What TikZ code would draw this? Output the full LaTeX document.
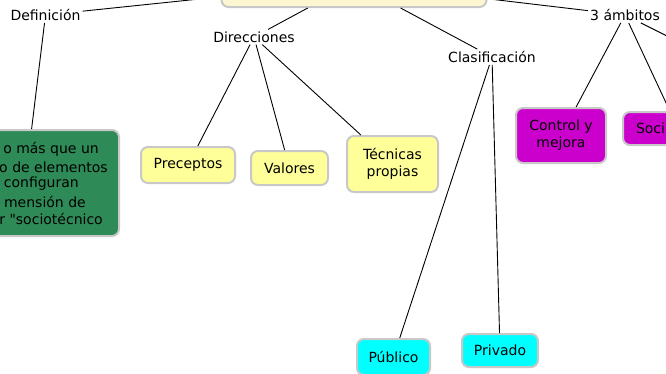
\documentclass[tikz,border=0pt]{standalone}
\usepackage{fontspec}
\setmainfont{DejaVu Sans}[Ligatures=TeXOff]
\usetikzlibrary{positioning}
\definecolor{rootfill}{RGB}{252,247,208}
\definecolor{dirfill}{RGB}{255,255,153}
\definecolor{deffill}{RGB}{46,139,87}
\definecolor{clasfill}{RGB}{0,255,255}
\definecolor{ambfill}{RGB}{204,0,204}
\definecolor{boxline}{RGB}{200,200,200}
\tikzset{
    concept/.style={
        draw=boxline,
        line width=2pt,
        rounded corners=7pt,
        align=center,
        inner sep=2pt,
        font=\fontsize{14}{17}\selectfont
    },
    linkword/.style={
        inner sep=2pt,
        font=\fontsize{14}{17}\selectfont
    },
    link/.style={
        draw,
        black,
        line width=0.9pt
    }
}

\begin{document}
\begin{tikzpicture}[x=1pt, y=-1pt]
  \useasboundingbox (0,0) rectangle (666,373);
  \clip (0,0) rectangle (666,373);

  % Root concept (only its lower edge shows)
  \node[concept, fill=rootfill, minimum width=265, minimum height=48] (root) at (354,-17) {};

  % Linking words
  \node[linkword] (defin) at (45.5,15) {Definición};
  \node[linkword] (direc) at (254,37) {Direcciones};
  \node[linkword] (clasif) at (492,57) {Clasificación};
  \node[linkword] (ambitos) at (625,15) {3 ámbitos};
  \coordinate (ambmore) at (700,52.5);

  % Definition box
  \node[concept, fill=deffill, minimum width=188, minimum height=106] (defbox) at (25,183) {};
  \foreach \txt/\xr/\yl [count=\i] in {o más que un/99/149, o de elementos/108/167,
      configuran/79/184, mensión de/86/202, r \symbol{34}sociotécnico/103/219}
    \node[anchor=east, inner sep=0pt, font=\fontsize{14}{17}\selectfont] (defline\i) at (\xr,\yl) {\txt};

  % Directions
  \node[concept, fill=dirfill, minimum width=94, minimum height=36] (precep) at (188,165) {Preceptos};
  \node[concept, fill=dirfill, minimum width=77, minimum height=34] (valores) at (289.5,168) {Valores};
  \node[concept, fill=dirfill, minimum width=91, minimum height=56] (tecnicas) at (392.5,164) {Técnicas\\propias};

  % Classification
  \node[concept, fill=clasfill, minimum width=73, minimum height=36] (publico) at (393.5,357) {Público};
  \node[concept, fill=clasfill, minimum width=76, minimum height=33] (privado) at (500,350.5) {Privado};

  % Three areas
  \node[concept, fill=ambfill, minimum width=90, minimum height=55] (control) at (561,135.5) {Control y\\mejora};
  \node[concept, fill=ambfill, minimum height=33, text width=84, inner xsep=13pt, align=left] (social) at (678,128.5) {Soci};

  % Connectors
  \draw[link] (root) -- (defin);
  \draw[link] (root) -- (direc);
  \draw[link] (root) -- (clasif);
  \draw[link] (root) -- (ambitos);
  \draw[link] (defin) -- (defbox);
  \draw[link] (direc) -- (precep);
  \draw[link] (direc) -- (valores);
  \draw[link] (direc) -- (tecnicas);
  \draw[link] (clasif) -- (publico);
  \draw[link] (clasif) -- (privado);
  \draw[link] (ambitos) -- (control);
  \draw[link] (ambitos) -- (social);
  \draw[link] (ambitos) -- (ambmore);
\end{tikzpicture}
\end{document}
